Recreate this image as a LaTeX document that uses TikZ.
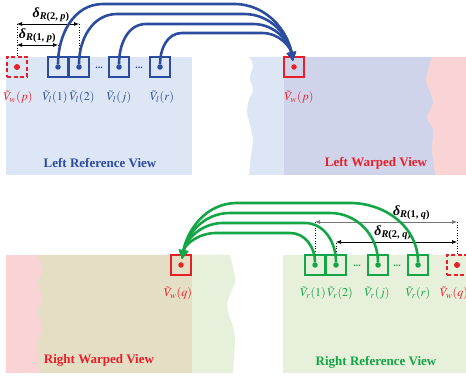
\documentclass[tikz,border=0pt]{standalone}
\usepackage{amsmath}
\usepackage{mathptmx}
\usepackage[no-math]{fontspec}
\setmainfont{Liberation Serif}
\usepackage{xcolor}
\usepackage{tikz}
\usetikzlibrary{arrows.meta}

\definecolor{lblue}{RGB}{44,76,160}
\definecolor{rgreen}{RGB}{20,165,70}
\definecolor{wred}{RGB}{232,30,40}
\definecolor{bgblue}{RGB}{220,230,244}
\definecolor{bglav}{RGB}{208,212,234}
\definecolor{bgpink}{RGB}{250,212,212}
\definecolor{bgbeige}{RGB}{228,222,196}
\definecolor{bggreen}{RGB}{230,240,218}

\newcommand{\dlt}[2]{\textbf{\textit{δ}\textsubscript{\textit{R}(#1, \textit{#2})}}}

\begin{document}
\begin{tikzpicture}[x=1pt,y=1pt]
\tikzstyle{every node}+=[inner sep=0pt]
\tikzstyle{lbox}=[draw=lblue, line width=1.6pt, minimum size=20pt]
\tikzstyle{rbox}=[draw=rgreen, line width=1.6pt, minimum size=20pt]
\tikzstyle{wbox}=[draw=wred, line width=1.8pt, minimum size=20pt]
\tikzstyle{wboxd}=[wbox, dash pattern=on 4pt off 2.5pt]
\tikzstyle{pix}=[circle, minimum size=5.5pt]
\tikzstyle{lab}=[font=\fontsize{12}{14}\selectfont]
\tikzstyle{title}=[font=\fontsize{13}{15}\selectfont\bfseries]
\tikzstyle{dlab}=[font=\fontsize{14}{16}\selectfont, above=2pt]
\tikzstyle{gap}=[line width=0.7pt, {Latex[length=5pt,width=4pt]}-{Latex[length=5pt,width=4pt]}]
\tikzstyle{gapline}=[line width=0.6pt, dotted]
\tikzstyle{flowl}=[lblue, line width=2.6pt, -{Triangle[length=9pt,width=9pt]}, shorten >=3pt]
\tikzstyle{flowr}=[rgreen, line width=2.6pt, -{Triangle[length=9pt,width=9pt]}, shorten >=3pt]
\useasboundingbox (0,0) rectangle (466,382);
% top panel: left reference and left warped views
\fill[bgblue] (6,207) rectangle (192,325);
\fill[bgpink] (400,207) rectangle (466,325);
\fill[bgblue] (290,325) -- (290,207) -- plot[smooth] coordinates {(249,207) (251,227) (253,242) (250,257) (247,270) (249,282) (253,292) (250,304) (253,317) (249,325)} -- cycle;
\fill[bglav] (284,207) -- (284,325) -- plot[smooth] coordinates {(432,325) (426,302) (433,280) (427,265) (433,252) (432,232) (435,207)} -- cycle;
\node[title, text=lblue] (lrtitle) at (100,219) {Left Reference View};
\node[title, text=wred] (lwtitle) at (376,219) {Left Warped View};
% bottom panel: right warped and right reference views
\fill[bgpink] (6,9) rectangle (60,127);
\fill[bgbeige] (192,127) -- plot[smooth] coordinates {(37,127) (43,112) (38,100) (42,84) (38,70) (42,55) (38,37) (40,9)} -- (192,9) -- cycle;
\fill[bggreen] (192,127) -- plot[smooth] coordinates {(230,127) (234,110) (235,100) (227,77) (233,55) (235,42) (233,9)} -- (192,9) -- cycle;
\fill[bggreen] (283,9) rectangle (466,127);
\node[title, text=wred] (rwtitle) at (99,22) {Right Warped View};
\node[title, text=rgreen] (rrtitle) at (376,20) {Right Reference View};
% top boxes
\node[wboxd] (wpd) at (17,315) {};
\node[pix, fill=wred, minimum size=6pt] (wpdpt) at (wpd) {};
\node[lbox] (l1) at (58,315) {};
\node[lbox] (l2) at (79,315) {};
\node[lbox] (lj) at (119,315) {};
\node[lbox] (lr) at (160,315) {};
\node[pix, fill=lblue] (l1pt) at (l1) {};
\node[pix, fill=lblue] (l2pt) at (l2) {};
\node[pix, fill=lblue] (ljpt) at (lj) {};
\node[pix, fill=lblue] (lrpt) at (lr) {};
\node[text=lblue, font=\bfseries] (ldots1) at (99,314) {...};
\node[text=lblue, font=\bfseries] (ldots2) at (139,314) {...};
\node[wbox] (wp) at (294,315) {};
\node[pix, fill=wred] (wppt) at (wp) {};
\node[lab, text=wred] (wpdlab) at (18,285) {$\tilde{V}_w(p)$};
\node[lab, text=lblue] (l1lab) at (55,285) {$\tilde{V}_l(1)$};
\node[lab, text=lblue] (l2lab) at (82,285) {$\tilde{V}_l(2)$};
\node[lab, text=lblue] (ljlab) at (119,285) {$\tilde{V}_l(j)$};
\node[lab, text=lblue] (lrlab) at (162,285) {$\tilde{V}_l(r)$};
\node[lab, text=wred] (wplab) at (299,285) {$\tilde{V}_w(p)$};
% top distances
\coordinate (dpa) at (0,358);
\coordinate (dpb) at (0,337);
\draw[gapline] (wpd.north) -- (wpd |- dpa);
\draw[gapline] (l2.north) -- (l2 |- dpa);
\draw[gapline] (l1.north) -- (l1 |- dpb);
\draw[gap] (wpd |- dpa) -- node[dlab, pos=0.55] {\dlt{2}{p}} (l2 |- dpa);
\draw[gap] (wpd |- dpb) -- node[dlab, pos=0.5] {\dlt{1}{p}} (l1 |- dpb);
% top flows
\draw[flowl] (l1pt) to[out=90,in=180] (103,378) -- (234,378) to[out=0,in=100] (wppt);
\draw[flowl] (l2pt) to[out=90,in=180] (117,368) -- (244,368) to[out=0,in=100] (wppt);
\draw[flowl] (ljpt) to[out=90,in=180] (146,358) -- (253,358) to[out=0,in=100] (wppt);
\draw[flowl] (lrpt) to[out=90,in=180] (182,349) -- (262,349) to[out=0,in=100] (wppt);
% bottom boxes
\node[wbox] (wq) at (181,117) {};
\node[pix, fill=wred] (wqpt) at (wq) {};
\node[rbox] (r1) at (315,117) {};
\node[rbox] (r2) at (336,117) {};
\node[rbox] (rj) at (378,117) {};
\node[rbox] (rr) at (418,117) {};
\node[pix, fill=rgreen] (r1pt) at (r1) {};
\node[pix, fill=rgreen] (r2pt) at (r2) {};
\node[pix, fill=rgreen] (rjpt) at (rj) {};
\node[pix, fill=rgreen] (rrpt) at (rr) {};
\node[text=rgreen, font=\bfseries] (rdots1) at (357,116) {...};
\node[text=rgreen, font=\bfseries] (rdots2) at (397,116) {...};
\node[wboxd] (wqd) at (457,117) {};
\node[pix, fill=wred, minimum size=6pt] (wqdpt) at (wqd) {};
\node[lab, text=wred] (wqlab) at (178,89) {$\tilde{V}_w(q)$};
\node[lab, text=rgreen] (r1lab) at (313,89) {$\tilde{V}_r(1)$};
\node[lab, text=rgreen] (r2lab) at (340,89) {$\tilde{V}_r(2)$};
\node[lab, text=rgreen] (rjlab) at (377,89) {$\tilde{V}_r(j)$};
\node[lab, text=rgreen] (rrlab) at (418,89) {$\tilde{V}_r(r)$};
\node[lab, text=wred] (wqdlab) at (454,89) {$\tilde{V}_w(q)$};
% bottom distances
\coordinate (dqa) at (0,160);
\coordinate (dqb) at (0,140);
\draw[gapline] (wqd.north) -- (wqd |- dqa);
\draw[gapline] (r1.north) -- (r1 |- dqa);
\draw[gapline] (r2.north) -- (r2 |- dqb);
\draw[gap, draw=black!55] (r1 |- dqa) -- node[dlab, pos=0.68] {\dlt{1}{q}} (wqd |- dqa);
\draw[gap] (r2 |- dqb) -- node[dlab, pos=0.47] {\dlt{2}{q}} (wqd |- dqb);
% bottom flows
\draw[flowr] (r1pt) to[out=90,in=0] (290,149) -- (216,149) to[out=180,in=80] (wqpt);
\draw[flowr] (r2pt) to[out=90,in=0] (305,159) -- (223,159) to[out=180,in=80] (wqpt);
\draw[flowr] (rjpt) to[out=90,in=0] (330,169) -- (230,169) to[out=180,in=80] (wqpt);
\draw[flowr] (rrpt) to[out=90,in=0] (350,179) -- (237,179) to[out=180,in=80] (wqpt);
\end{tikzpicture}
\end{document}
